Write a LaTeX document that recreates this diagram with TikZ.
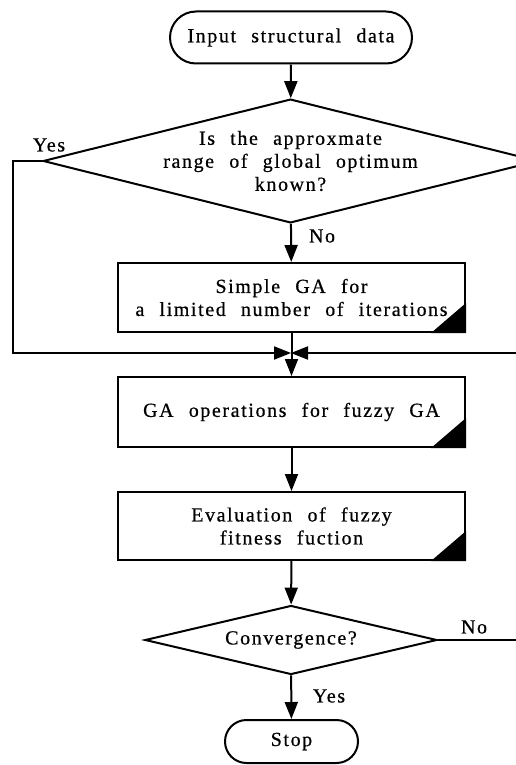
\documentclass[tikz,border=0pt]{standalone}
\usepackage{fontspec}
\setmainfont[LetterSpace=8,WordSpace=2.3,FakeBold=0.6]{Liberation Serif}
\usetikzlibrary{shapes, arrows.meta, calc}

\begin{document}
\begin{tikzpicture}[x=1pt,y=-1pt,line width=2pt,font=\fontsize{20}{23}\selectfont]
  \tikzset{terminal/.style={rounded rectangle, draw, inner sep=0pt,
      minimum width=#1, minimum height=45pt},
    process/.style={rectangle, draw, align=center, inner sep=0pt,
      minimum width=347pt, minimum height=69pt},
    decision/.style={diamond, draw, align=center, inner sep=0pt, aspect=4},
    arr/.style={-{Triangle[length=17pt,width=13pt]}}
  }
  \useasboundingbox (0,0) rectangle (515,765);
  \node [terminal=242pt, minimum height=52pt] (start) at (291,37.5) {Input structural data};
  \node [decision, minimum width=445pt, minimum height=114pt] (known) at (290.5,161)
        {Is the approxmate\\range of global optimum\\known?};
  \node [process] (sga) at (291.5,297.5) {Simple GA for\\a limited number of iterations};
  \node [process, minimum height=70pt] (gaop) at (291.5,412) {GA operations for fuzzy GA};
  \node [process, minimum height=68pt] (eval) at (291.5,526) {Evaluation of fuzzy\\fitness fuction};
  \node [decision, minimum width=292pt, minimum height=69pt] (conv) at (291,640) {Convergence?};
  \node [terminal=133pt, minimum height=43pt] (stop) at (291.5,741.5) {Stop};
  \coordinate (merge) at (291,353);
  \coordinate (yesl) at (13,161);
  \coordinate (nor) at (518,640);

  \foreach \n in {sga,gaop,eval}
    \fill (\n.south east) -- ++(0,-30) -- ++(-35,30) -- cycle;

  \draw [arr] (start) -- (known);
  \draw [arr] (known) -- (sga);
  \draw [arr] (sga) -- (gaop);
  \draw [arr] (known.west) -- (yesl) |- (merge);
  \draw [arr] (conv.east) -- (nor) |- (merge);
  \draw [arr] (gaop) -- (eval);
  \draw [arr] (eval) -- (conv);
  \draw [arr] (conv) -- (stop);

  \node (yes1) at (49,145) {Yes};
  \node (no1) at (322,236) {No};
  \node (no2) at (474,627) {No};
  \node (yes2) at (329,696) {Yes};
\end{tikzpicture}
\end{document}
